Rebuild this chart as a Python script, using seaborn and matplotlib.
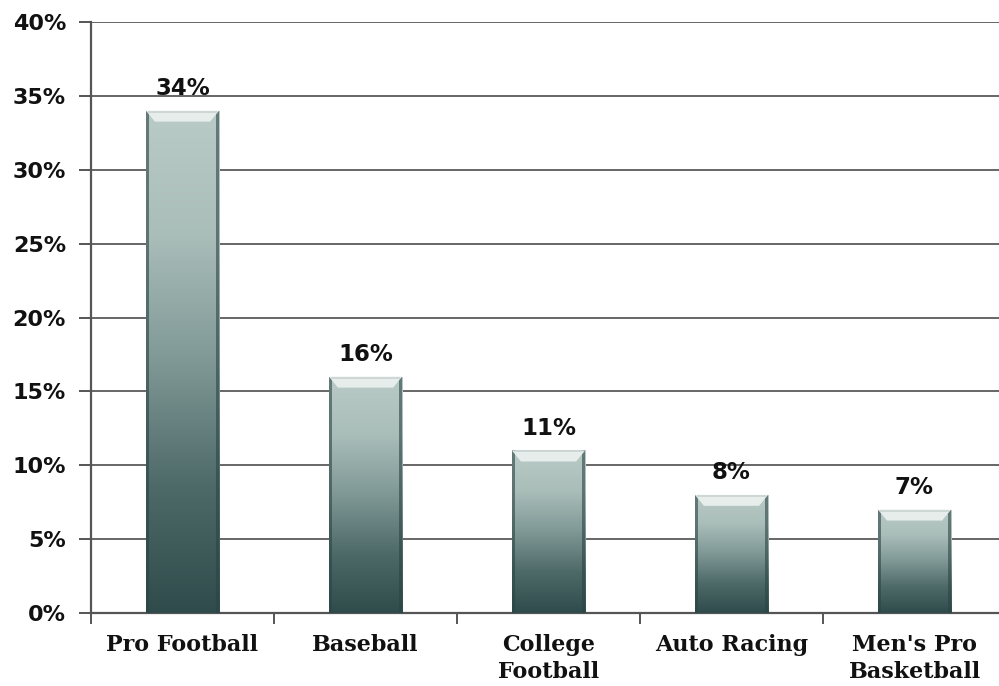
import numpy as np
import pandas as pd
import matplotlib
matplotlib.use("Agg")
import matplotlib.pyplot as plt
from matplotlib.colors import LinearSegmentedColormap
from matplotlib.patches import Polygon
import seaborn as sns

# Favourite sport shares
sports = ["Pro Football", "Baseball", "College\nFootball", "Auto Racing", "Men's Pro\nBasketball"]
shares = [34, 16, 11, 8, 7]
value_labels = ["34%", "16%", "11%", "8%", "7%"]
y_ticks = [0, 5, 10, 15, 20, 25, 30, 35, 40]
y_tick_labels = ["0%", "5%", "10%", "15%", "20%", "25%", "30%", "35%", "40%"]

df = pd.DataFrame({"sport": sports, "share": shares})

sns.set_theme(style="white")
plt.rcParams["font.family"] = ["DejaVu Sans"]

W, H = 999, 686
fig = plt.figure(figsize=(W / 100, H / 100), dpi=100)
ax_left, ax_bottom, ax_w, ax_h = 91, 73, 915, 591
ax = fig.add_axes([ax_left / W, ax_bottom / H, ax_w / W, ax_h / H])

bar_w = 0.40
sns.barplot(data=df, x="sport", y="share", ax=ax, width=bar_w,
            color="#4a6464", saturation=1, zorder=3)

ax.set_xlim(-0.5, 4.5)
ax.set_ylim(0, 40)

# pixel sizes in data units
px_x = 5.0 / ax_w
px_y = 40.0 / ax_h

grad = LinearSegmentedColormap.from_list(
    "bar", ["#2f4b4b", "#4d6968", "#7f9896", "#a9bdb9", "#b9cbc7"])
gimg = np.linspace(0, 1, 256).reshape(-1, 1)

for patch in ax.patches:
    x0 = patch.get_x()
    w = patch.get_width()
    h = patch.get_height()
    patch.set_facecolor("none")
    patch.set_edgecolor("none")
    im = ax.imshow(gimg, cmap=grad, origin="lower", aspect="auto",
                   extent=[x0, x0 + w, 0, h], zorder=3, interpolation="bilinear")
    im.set_clip_path(patch)
    # darker side edges
    for sx in (x0, x0 + w - 3 * px_x):
        ax.fill_between([sx, sx + 3 * px_x], 0, h, color="#2c4444", alpha=0.6,
                        zorder=4, linewidth=0)
    # bevelled top cap
    cap_h = 11 * px_y
    inset = 9 * px_x
    cap = Polygon([[x0, h], [x0 + w, h], [x0 + w - inset, h - cap_h],
                   [x0 + inset, h - cap_h]], closed=True,
                  facecolor="#e6edeb", edgecolor="none", zorder=5)
    ax.add_patch(cap)
    ax.plot([x0 + 2 * px_x, x0 + w - 2 * px_x], [h - 1 * px_y, h - 1 * px_y],
            color="#c9d3d1", lw=1.2, zorder=6, solid_capstyle="butt")

# value labels above bars
for i, (v, lab) in enumerate(zip(shares, value_labels)):
    ax.text(i, v + 22 * px_y, lab, ha="center", va="center",
            fontsize=16.5, fontweight="bold", color="#111111", zorder=7)

# horizontal grid
ax.set_yticks(y_ticks)
ax.set_yticklabels(y_tick_labels, fontsize=16, fontweight="bold", color="#111111")
for t in y_ticks[1:]:
    ax.axhline(t, color="#5a5a5a", lw=1.3, zorder=1)

ax.set_xticks(range(len(sports)))
ax.set_xticklabels(sports, fontsize=16, fontweight="bold", family="DejaVu Serif",
                   color="#111111", linespacing=1.3)
ax.set_xticks(np.arange(-0.5, 4.6, 1.0), minor=True)
ax.tick_params(axis="x", which="major", length=0, pad=15)
ax.tick_params(axis="x", which="minor", length=8, width=1.4, color="#555555",
               direction="out", bottom=True)
ax.tick_params(axis="y", which="major", length=9, width=1.4, color="#555555",
               direction="out", left=True, pad=9)

ax.set_xlabel("")
ax.set_ylabel("")
for s in ("top", "right"):
    ax.spines[s].set_visible(False)
ax.spines["left"].set_color("#555555")
ax.spines["left"].set_linewidth(1.6)
ax.spines["bottom"].set_color("#555555")
ax.spines["bottom"].set_linewidth(1.6)

fig.savefig("out.png", dpi=100, facecolor="white")
